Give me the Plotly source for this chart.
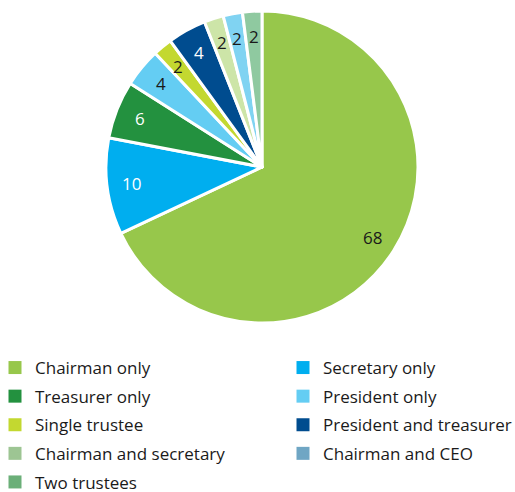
import math
import plotly.graph_objects as go

# Board roles, in clockwise order starting at 12 o'clock
categories = [
    "Chairman only", "Secretary only", "Treasurer only", "President only",
    "Single trustee", "President and treasurer", "Chairman and secretary",
    "Chairman and CEO", "Two trustees",
]
values = [68, 10, 6, 4, 2, 4, 2, 2, 2]
slice_colors = [
    "#97C74B", "#00AEEF", "#23913F", "#64CDF3", "#C3D830",
    "#004C8F", "#CDE5A8", "#80D3F2", "#8FC9A0",
]
legend_colors = [
    "#97C74B", "#00AEEF", "#23913F", "#64CDF3", "#C3D830",
    "#004C8F", "#9DC593", "#6FA6C4", "#6BAF78",
]
label_colors = ["#1a1a1a", "white", "white", "#1a1a1a", "#1a1a1a",
                "white", "#1a1a1a", "#1a1a1a", "#1a1a1a"]

FONT = "Open Sans, Noto Sans, sans-serif"
W, H = 515, 492

# Pie geometry (pixels)
CX, CY, R = 262, 167, 156
LABEL_RADIUS = 0.84

fig = go.Figure()
fig.add_trace(go.Pie(
    labels=categories,
    values=values,
    sort=False,
    direction="clockwise",
    rotation=0,
    marker=dict(colors=slice_colors, line=dict(color="white", width=3)),
    textinfo="none",
    showlegend=False,
    hoverinfo="label+value",
    domain=dict(x=[(CX - R) / W, (CX + R) / W],
                y=[1 - (CY + R) / H, 1 - (CY - R) / H]),
))

# Value labels placed along each slice's bisector
total = sum(values)
cum = 0
for v, col in zip(values, label_colors):
    mid = (cum + v / 2) / total
    cum += v
    theta = 2 * math.pi * mid
    px = CX + LABEL_RADIUS * R * math.sin(theta)
    py = CY - LABEL_RADIUS * R * math.cos(theta)
    fig.add_annotation(
        x=px / W, y=1 - py / H, xref="paper", yref="paper",
        xanchor="center", yanchor="middle",
        text=str(v), showarrow=False,
        font=dict(family=FONT, size=17, color=col),
    )

# Two-column key built from marker-only traces
for i, (name, col) in enumerate(zip(categories, legend_colors)):
    fig.add_trace(go.Scatter(
        x=[None], y=[None], mode="markers", name=name,
        marker=dict(symbol="square", size=13, color=col),
        legend="legend" if i % 2 == 0 else "legend2",
        legendgroup=name,
        hoverinfo="skip",
    ))

legend_style = dict(
    font=dict(family=FONT, size=17, color="#1a1a1a"),
    bgcolor="rgba(0,0,0,0)",
    traceorder="grouped",
    tracegroupgap=3.5,
    itemsizing="trace",
    indentation=-5,
    xanchor="left", yanchor="top",
    y=1 - 350 / H,
)

fig.update_layout(
    width=W, height=H,
    margin=dict(l=0, r=0, t=0, b=0, autoexpand=False),
    paper_bgcolor="white", plot_bgcolor="white",
    xaxis=dict(visible=False), yaxis=dict(visible=False),
    legend=dict(**legend_style, x=0),
    legend2=dict(**legend_style, x=288 / W),
)

fig.write_html("out.html")
